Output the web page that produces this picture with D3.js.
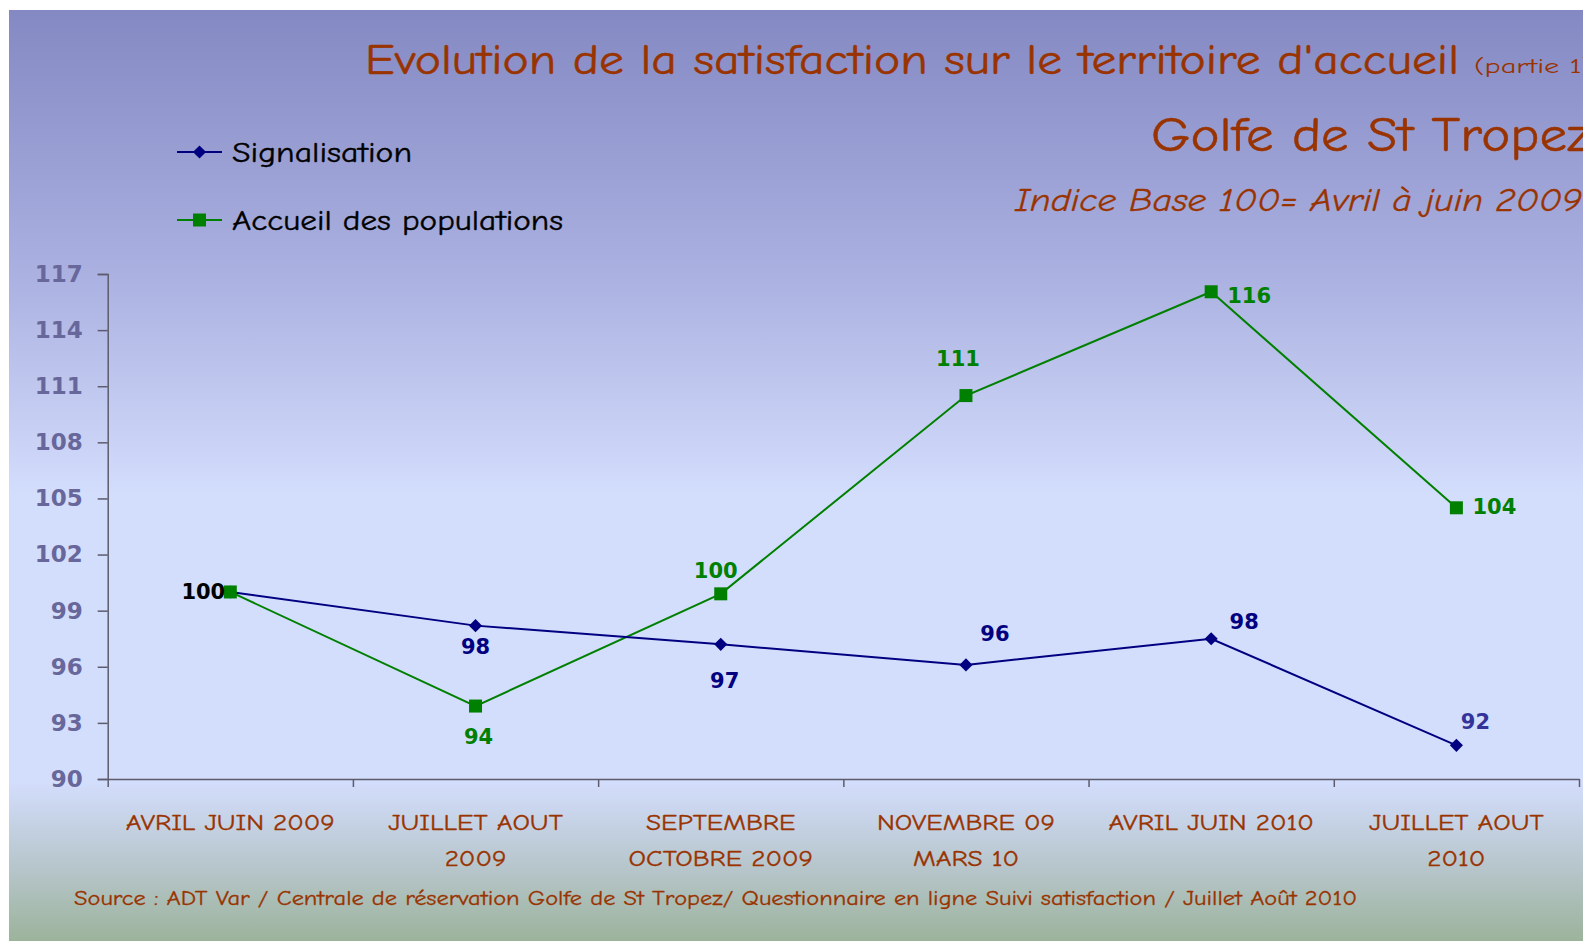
<!DOCTYPE html>
<html>
<head>
<meta charset="utf-8">
<script src="https://cdn.jsdelivr.net/npm/d3@7/dist/d3.min.js"></script>
<style>
  html, body { margin: 0; padding: 0; background: #ffffff; }
  svg { display: block; }
</style>
</head>
<body>
<svg id="chart" width="1583" height="941"></svg>
<script>
// ---------------- DATA ----------------
const categories = [
  ["AVRIL JUIN 2009"],
  ["JUILLET AOUT", "2009"],
  ["SEPTEMBRE", "OCTOBRE 2009"],
  ["NOVEMBRE 09", "MARS 10"],
  ["AVRIL JUIN 2010"],
  ["JUILLET AOUT", "2010"]
];
const signalisation = [100, 98.2, 97.2, 96.1, 97.5, 91.8];
const signalisationLabels = ["100", "98", "97", "96", "98", "92"];
const accueil = [100, 93.9, 99.9, 110.5, 116.05, 104.5];
const accueilLabels = ["", "94", "100", "111", "116", "104"];
const yTicks = [90, 93, 96, 99, 102, 105, 108, 111, 114, 117];
const seriesNames = ["Signalisation", "Accueil des populations"];
const titleText = "Evolution de la satisfaction sur le territoire d'accueil";
const titleSuffix = "(partie 1)";
const subtitleText = "Golfe de St Tropez";
const baseText = "Indice Base 100= Avril à juin 2009";
const sourceText = "Source : ADT Var / Centrale de réservation Golfe de St Tropez/ Questionnaire en ligne Suivi satisfaction / Juillet Août 2010";

// ---------------- STYLE ----------------
const W = 1583, H = 941;
const comic = "'Comic Sans MS', 'Comic Neue', 'Open Sans', sans-serif";
const boldSans = "'DejaVu Sans', Verdana, sans-serif";
const brown = "#993300";
const navy = "#000080";
const green = "#008000";
const axisColor = "#5c5c6c";

const svg = d3.select("#chart");

// background gradient
const defs = svg.append("defs");
const grad = defs.append("linearGradient").attr("id", "bg")
  .attr("x1", 0).attr("y1", 0).attr("x2", 0).attr("y2", 1);
[[0, "#8489c3"], [0.28, "#aab0e0"], [0.52, "#d3ddfc"], [0.83, "#d3ddfc"], [0.92, "#b7c6cc"], [1, "#9cb39b"]]
  .forEach(([o, c]) => grad.append("stop").attr("offset", o).attr("stop-color", c));
svg.append("rect").attr("x", 9).attr("y", 10).attr("width", W - 9).attr("height", H - 10)
  .attr("fill", "url(#bg)");

// ---------------- SCALES ----------------
const x0 = 107.7, x1 = 1579, yTop = 274, yBot = 779;
const x = d3.scaleBand().domain(d3.range(categories.length)).range([x0, x1]).padding(0);
const xEdge = d3.scaleLinear().domain([0, categories.length]).range([x0, x1]);
const y = d3.scaleLinear().domain([90, 117]).range([yBot, yTop]);
const cx = i => x(i) + x.bandwidth() / 2;

// ---------------- AXES ----------------
const yAxis = svg.append("g").attr("transform", `translate(${x0},0)`)
  .call(d3.axisLeft(y).tickValues(yTicks).tickSize(10).tickPadding(15).tickFormat(d3.format("d")));
yAxis.select(".domain").attr("stroke", axisColor).attr("stroke-width", 1.5);
yAxis.selectAll(".tick line").attr("stroke", axisColor).attr("stroke-width", 1.5);
yAxis.selectAll(".tick text").attr("fill", "#67679b").attr("font-family", boldSans)
  .attr("font-weight", "bold").attr("font-size", 23);

const xAxis = svg.append("g").attr("transform", `translate(0,${yBot})`)
  .call(d3.axisBottom(xEdge).tickValues(d3.range(categories.length + 1)).tickSize(8).tickSizeOuter(0).tickFormat(""));
xAxis.select(".domain").attr("stroke", axisColor).attr("stroke-width", 1.5);
xAxis.selectAll(".tick line").attr("stroke", axisColor).attr("stroke-width", 1.5);

// category labels
const catG = svg.append("g");
const catTexts = [];
categories.forEach((lines, i) => {
  lines.forEach((ln, k) => {
    const t = catG.append("text").attr("x", cx(i)).attr("y", 830 + 36 * k)
      .attr("text-anchor", "middle").attr("fill", brown)
      .attr("stroke", brown).attr("stroke-width", 0.35)
      .attr("font-family", comic).attr("font-size", 23).text(ln);
    catTexts.push(t);
  });
});
// widen category labels to match the reference's wide font
const refLen = catTexts[0].node().getComputedTextLength();
const kWide = 209 / refLen;
catTexts.forEach(t => {
  const L = t.node().getComputedTextLength();
  t.attr("textLength", L * kWide).attr("lengthAdjust", "spacingAndGlyphs");
});

// ---------------- LINES ----------------
const line = d3.line().x((d, i) => cx(i)).y(d => y(d));
svg.append("path").datum(accueil).attr("d", line).attr("fill", "none")
  .attr("stroke", green).attr("stroke-width", 2);
svg.append("path").datum(signalisation).attr("d", line).attr("fill", "none")
  .attr("stroke", navy).attr("stroke-width", 2);

const diamond = d3.symbol().type(d3.symbolDiamond2).size(110);
svg.append("g").selectAll("path").data(signalisation).join("path")
  .attr("transform", (d, i) => `translate(${cx(i)},${y(d)})`)
  .attr("d", diamond).attr("fill", navy);
svg.append("g").selectAll("rect").data(accueil).join("rect")
  .attr("x", (d, i) => cx(i) - 6.5).attr("y", d => y(d) - 6.5)
  .attr("width", 13).attr("height", 13).attr("fill", green);

// data labels (placement relative to point)
const sigPlace = [[-27, 0], [0, 21], [4, 37], [29, -31], [33, -17], [19, -23]];
const accPlace = [[0, 0], [3, 31], [-5, -23], [-8, -37], [38, 4], [38, -1]];
const sigColors = ["#000000", navy, navy, navy, navy, "#33339a"];
const lblG = svg.append("g").attr("font-family", boldSans).attr("font-weight", "bold").attr("font-size", 21);
signalisation.forEach((v, i) => {
  lblG.append("text").attr("x", cx(i) + sigPlace[i][0]).attr("y", y(v) + sigPlace[i][1])
    .attr("text-anchor", "middle").attr("dominant-baseline", "central")
    .attr("fill", sigColors[i]).text(signalisationLabels[i]);
});
accueil.forEach((v, i) => {
  if (!accueilLabels[i]) return;
  lblG.append("text").attr("x", cx(i) + accPlace[i][0]).attr("y", y(v) + accPlace[i][1])
    .attr("text-anchor", "middle").attr("dominant-baseline", "central")
    .attr("fill", green).text(accueilLabels[i]);
});

// ---------------- LEGEND ----------------
const legY = [152, 220];
const legColors = [navy, green];
seriesNames.forEach((name, k) => {
  const g = svg.append("g");
  g.append("line").attr("x1", 177).attr("x2", 222).attr("y1", legY[k]).attr("y2", legY[k])
    .attr("stroke", legColors[k]).attr("stroke-width", 2);
  if (k === 0) {
    g.append("path").attr("transform", `translate(199.5,${legY[k]})`).attr("d", diamond).attr("fill", navy);
  } else {
    g.append("rect").attr("x", 193).attr("y", legY[k] - 6.5).attr("width", 13).attr("height", 13).attr("fill", green);
  }
  g.append("text").attr("x", 232).attr("y", legY[k] + 10).attr("fill", "#000")
    .attr("stroke", "#000").attr("stroke-width", 0.4)
    .attr("font-family", comic).attr("font-size", 28)
    .attr("textLength", k === 0 ? 180 : 331).attr("lengthAdjust", "spacingAndGlyphs")
    .text(name);
});

// ---------------- TITLES ----------------
svg.append("text").attr("x", 365).attr("y", 74).attr("fill", brown)
  .attr("stroke", brown).attr("stroke-width", 0.5)
  .attr("font-family", comic).attr("font-size", 43)
  .attr("textLength", 1094).attr("lengthAdjust", "spacingAndGlyphs").text(titleText);
svg.append("text").attr("x", 1474).attr("y", 73).attr("fill", brown)
  .attr("font-family", comic).attr("font-size", 21)
  .attr("textLength", 118).attr("lengthAdjust", "spacingAndGlyphs").text(titleSuffix);
svg.append("text").attr("x", 1151).attr("y", 151).attr("fill", brown)
  .attr("stroke", brown).attr("stroke-width", 0.5)
  .attr("font-family", comic).attr("font-size", 49)
  .attr("textLength", 440).attr("lengthAdjust", "spacingAndGlyphs").text(subtitleText);
svg.append("text").attr("x", 1015).attr("y", 211).attr("fill", brown)
  .attr("stroke", brown).attr("stroke-width", 0.3)
  .attr("font-family", comic).attr("font-size", 33).attr("font-style", "italic")
  .attr("textLength", 567).attr("lengthAdjust", "spacingAndGlyphs").text(baseText);

// source
svg.append("text").attr("x", 74).attr("y", 905).attr("fill", brown)
  .attr("stroke", brown).attr("stroke-width", 0.3)
  .attr("font-family", comic).attr("font-size", 20)
  .attr("textLength", 1283).attr("lengthAdjust", "spacingAndGlyphs").text(sourceText);
</script>
</body>
</html>
